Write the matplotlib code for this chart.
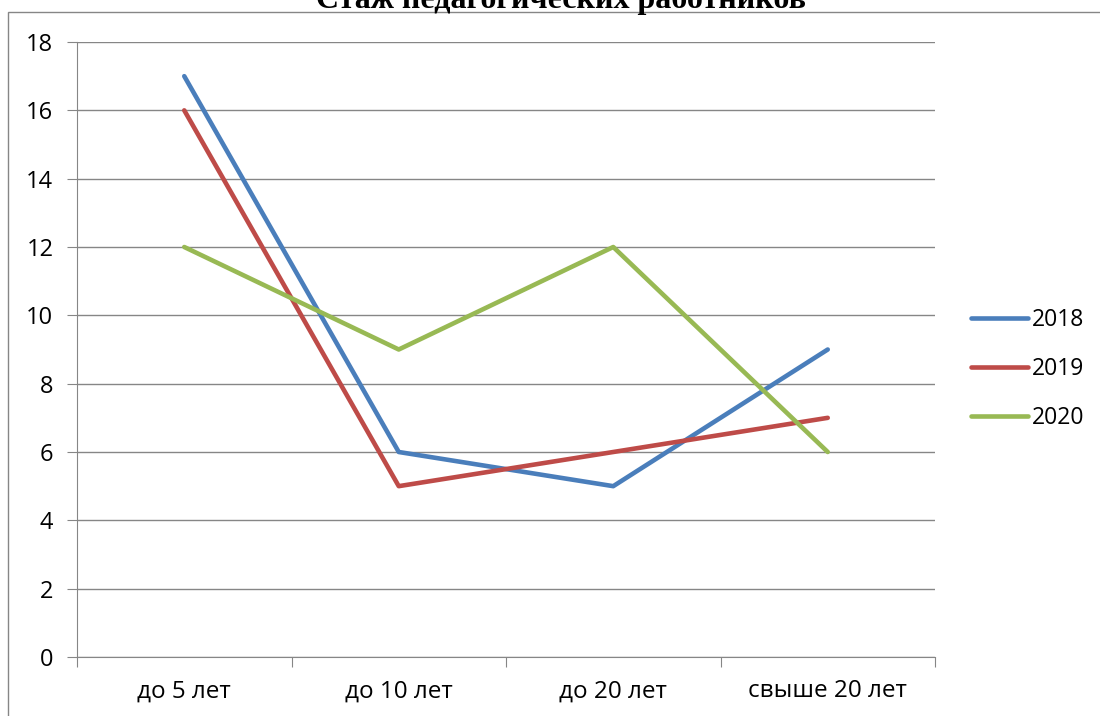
import numpy as np
import matplotlib.pyplot as plt
from matplotlib.patches import Rectangle

plt.rcParams['font.family'] = ['Open Sans', 'DejaVu Sans']

categories = ['до 5 лет', 'до 10 лет', 'до 20 лет', 'свыше 20 лет']
years = ['2018', '2019', '2020']
values_2018 = [17, 6, 5, 9]
values_2019 = [16, 5, 6, 7]
values_2020 = [12, 9, 12, 6]
series = [values_2018, values_2019, values_2020]
colors = ['#4A7EBB', '#BE4B48', '#98B954']

fig = plt.figure(figsize=(11, 7.16), dpi=100)
ax = fig.add_axes([77 / 1100, 59 / 716, 858 / 1100, 615 / 716])

x = np.arange(len(categories))
for vals, year, c in zip(series, years, colors):
    ax.plot(x, vals, color=c, linewidth=3.3, label=year,
            solid_capstyle='round', solid_joinstyle='round', zorder=3)

ax.set_xlim(-0.5, len(categories) - 0.5)
ax.set_ylim(0, 18)
ax.set_yticks(np.arange(0, 19, 2))
ax.grid(axis='y', color='#868686', linewidth=1)
ax.set_axisbelow(True)

# category boundaries as major ticks, labels on minor ticks
ax.set_xticks(np.arange(-0.5, len(categories), 1))
ax.set_xticklabels([])
ax.set_xticks(x, minor=True)
ax.set_xticklabels(categories, minor=True)
ax.tick_params(axis='x', which='major', length=7, color='#868686', direction='out')
ax.tick_params(axis='x', which='minor', length=0, pad=16, labelsize=17.5)
ax.tick_params(axis='y', length=7, color='#868686', pad=10, labelsize=17)

for s in ['top', 'right']:
    ax.spines[s].set_visible(False)
for s in ['left', 'bottom']:
    ax.spines[s].set_color('#868686')

ax.legend(loc='center left', bbox_to_anchor=(971 / 1100, 1 - 369 / 716),
          bbox_transform=fig.transFigure, frameon=False, fontsize=16.5,
          handlelength=2.5, handletextpad=0.15, labelspacing=1.1,
          borderpad=0, borderaxespad=0)

# outer chart frame (partly cut off)
fig.patches.append(Rectangle((8 / 1100, -0.1), 1.2, 1 - 12 / 716 + 0.1,
                             transform=fig.transFigure, fill=False,
                             edgecolor='#868686', linewidth=1))

fig.text(561 / 1100, 1 - 8 / 716, 'Стаж педагогических работников', ha='center',
         va='baseline', fontsize=23, fontweight='bold', family='Liberation Serif')

fig.savefig('out.png', dpi=100)
